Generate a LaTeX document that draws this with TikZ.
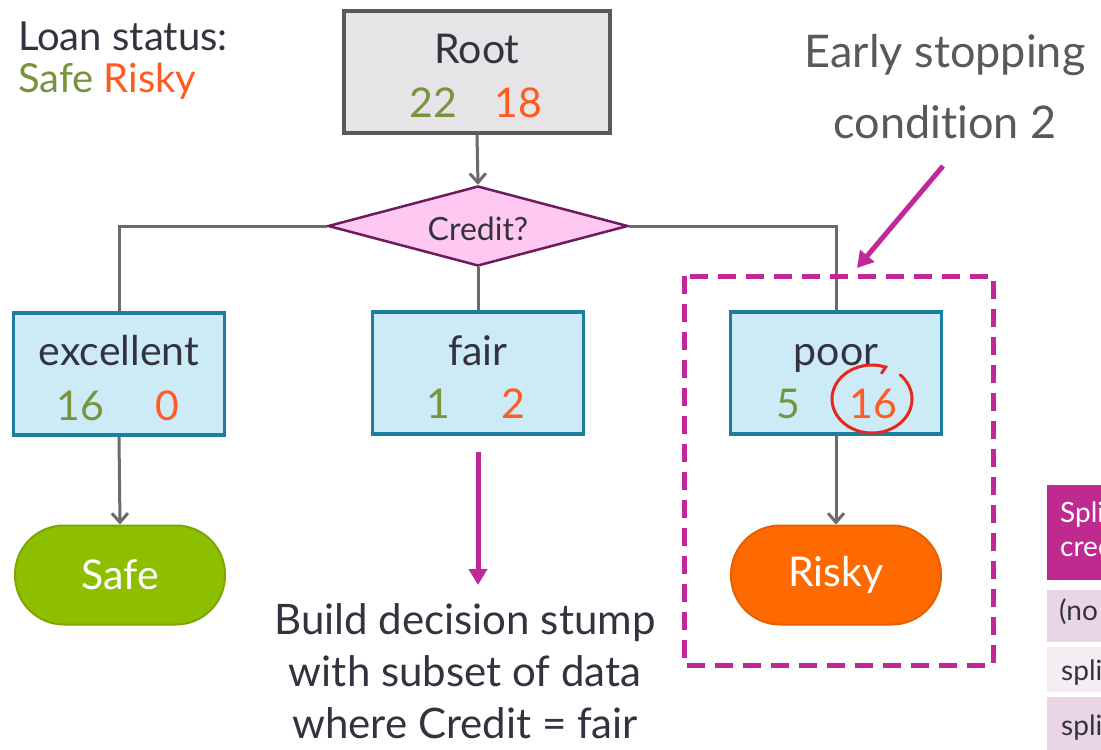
\documentclass[tikz,border=0pt]{standalone}
\usepackage{fontspec}
\setmainfont[Ligatures=NoCommon]{Lato}
\usetikzlibrary{shapes.geometric,arrows.meta}
\definecolor{txt}{HTML}{33333F}
\definecolor{graytxt}{HTML}{595959}
\definecolor{safeg}{HTML}{77933C}
\definecolor{riskyo}{HTML}{FF5A1F}
\definecolor{rootfill}{HTML}{E6E4E6}
\definecolor{rootdraw}{HTML}{5A5858}
\definecolor{dfill}{HTML}{FFC8F0}
\definecolor{ddraw}{HTML}{6E1A5E}
\definecolor{bfill}{HTML}{CDEBF7}
\definecolor{bdraw}{HTML}{1C7FA0}
\definecolor{pillg}{HTML}{8DBF00}
\definecolor{pillgd}{HTML}{79A800}
\definecolor{pillo}{HTML}{FF6A00}
\definecolor{pillod}{HTML}{E85F00}
\definecolor{mag}{HTML}{C0289A}
\definecolor{conn}{HTML}{6D6A6D}
\definecolor{circ}{HTML}{E8281E}
\definecolor{rowa}{HTML}{EAD5E4}
\definecolor{rowb}{HTML}{F4EEF2}
\definecolor{thead}{HTML}{BF2A91}
\tikzset{
  big/.style={font=\fontsize{41}{48}\selectfont},
  mid/.style={font=\fontsize{32}{38}\selectfont},
  small/.style={font=\fontsize{28}{34}\selectfont},
  rootbox/.style={draw=rootdraw, fill=rootfill, line width=4pt, minimum width=266pt, minimum height=122pt, inner sep=0pt},
  valbox/.style={draw=bdraw, fill=bfill, line width=3.5pt, minimum width=211pt, minimum height=122pt, inner sep=0pt},
  pill/.style={line width=2pt, minimum width=210pt, minimum height=99pt, rounded corners=49pt, inner sep=0pt, text=white, big},
  lbl/.style={anchor=base, inner sep=0pt, big},
  connline/.style={draw=conn, line width=3pt},
  connarrow/.style={connline, -{Straight Barb[length=9pt,width=16pt,line width=3pt]}},
  magarrow/.style={draw=mag, line width=5pt, -{Triangle[length=16pt,width=18pt]}},
  dashbox/.style={draw=mag, line width=5pt, dash pattern=on 18pt off 10pt},
}
\begin{document}
\begin{tikzpicture}[x=1pt,y=-1pt]
\useasboundingbox (0,0) rectangle (1101,750);
\clip (0,0) rectangle (1101,750);
\fill[white] (0,0) rectangle (1101,750);

% legend
\node[lbl, anchor=base west, text=txt, font=\fontsize{40}{48}\selectfont] (legend) at (18,50) {Loan status:};
\node[lbl, anchor=base west, font=\fontsize{40}{48}\selectfont] (legend2) at (18,92) {\textcolor{safeg}{Safe} \textcolor{riskyo}{Risky}};

% root
\node[rootbox] (root) at (477,72) {};
\node[lbl, text=txt] (roott) at (477,63) {Root};
\node[lbl, text=safeg] (root22) at (433,117) {22};
\node[lbl, text=riskyo] (root18) at (518,117) {18};

% diamond
\node[diamond, draw=ddraw, fill=dfill, line width=2.5pt, minimum width=300pt, minimum height=80pt, inner sep=0pt, aspect=3.75] (credit) at (478,226) {};
\node[lbl, mid, text=txt] (creditt) at (478,240) {Credit?};

% value boxes
\node[valbox] (exc) at (119,374) {};
\node[lbl, text=txt] (exct) at (119,365) {excellent};
\node[lbl, text=safeg] (exc16) at (80,420) {16};
\node[lbl, text=riskyo] (exc0) at (167,420) {0};

\node[valbox] (fair) at (478,373) {};
\node[lbl, text=txt] (fairt) at (478,365) {fair};
\node[lbl, text=safeg] (fair1) at (438,418) {1};
\node[lbl, text=riskyo] (fair2) at (513,418) {2};

\node[valbox] (poor) at (836,373) {};
\node[lbl, text=txt] (poort) at (836,365) {poor};
\node[lbl, text=safeg] (poor5) at (788,418) {5};
\node[lbl, text=riskyo] (poor16) at (873,418) {16};

% pills
\node[pill, draw=pillgd, fill=pillg] (safe) at (120,575) {Safe};
\node[pill, draw=pillod, fill=pillo] (risky) at (836,575) {Risky};

% connectors
\draw[connarrow] (root.south) -- (credit.north);
\draw[connline] (credit.west) -| (exc.north);
\draw[connline] (credit.south) -- (fair.north);
\draw[connline] (credit.east) -| (poor.north);
\draw[connarrow] (exc.south) -- (safe.north);
\draw[connarrow] (poor.south) -- (risky.north);

% red circle around 16
\draw[circ, line width=3pt, line cap=round] (872,399) ++(-45:40 and 34) arc[start angle=-45, end angle=290, x radius=40, y radius=34] -- ++(-4,6);

% dashed box
\draw[dashbox] (684,276) rectangle (993,665);

% fair arrow and text
\coordinate (fa1) at (478,452);
\coordinate (fa2) at (478,585);
\draw[magarrow] (fa1) -- (fa2);
\node[lbl, text=txt, align=center, font=\fontsize{42}{52}\selectfont] (stump) at (465,738) {Build decision stump\\with subset of data\\where Credit = fair};

% early stopping
\node[lbl, text=graytxt, align=center, font=\fontsize{45}{71}\selectfont] (early) at (945,138) {Early stopping\\condition 2};
\coordinate (ea1) at (943,166);
\coordinate (ea2) at (857,268);
\draw[magarrow] (ea1) -- (ea2);

% partial table
\fill[thead] (1047,485) rectangle (1200,580);
\node[anchor=base west, inner sep=0pt, small, text=white, align=left] (th) at (1060,556) {Split on\\credit};
\fill[rowa] (1047,590) rectangle (1200,642);
\node[anchor=base west, inner sep=0pt, small, text=txt] (r1) at (1059,620) {(no split)};
\fill[rowb] (1047,647) rectangle (1200,692);
\node[anchor=base west, inner sep=0pt, small, text=txt] (r2) at (1061,680) {split on};
\fill[rowa] (1047,697) rectangle (1200,760);
\node[anchor=base west, inner sep=0pt, small, text=txt] (r3) at (1061,735) {split on};
\end{tikzpicture}
\end{document}
